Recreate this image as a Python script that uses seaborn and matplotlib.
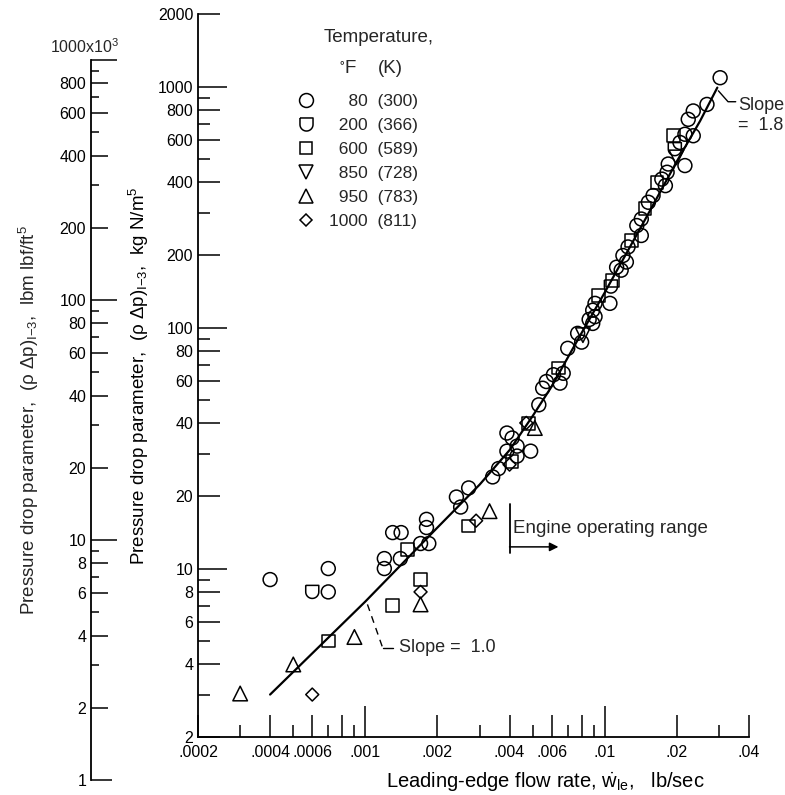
import numpy as np
import pandas as pd
import seaborn as sns
import matplotlib.pyplot as plt
from matplotlib.lines import Line2D
from matplotlib.ticker import NullFormatter

sns.set_theme(style="ticks")
plt.rcParams['font.family'] = ['Liberation Sans', 'DejaVu Sans']
plt.rcParams['mathtext.default'] = 'regular'
FS = 11.5      # tick labels
LFS = 13.5     # axis titles and notes

# ---- values ----
# 80 F (300 K)
x_80 = [0.0004, 0.0007, 0.0007, 0.0012, 0.0012, 0.0014, 0.0013, 0.00141, 0.0017, 0.00184,
        0.0018, 0.0018, 0.0024, 0.0025, 0.0027, 0.0034, 0.0036, 0.0039, 0.0039, 0.0041,
        0.0043, 0.0043, 0.0049, 0.0053, 0.0055, 0.0057, 0.0061, 0.0065, 0.0067, 0.0070,
        0.0077, 0.0080, 0.0086, 0.0089, 0.0089, 0.0091, 0.0091, 0.0105, 0.0112, 0.0117,
        0.0119, 0.0123, 0.0125, 0.0136, 0.0142, 0.0142, 0.0152, 0.0159, 0.0173, 0.0179,
        0.0182, 0.0184, 0.0206, 0.0216, 0.0216, 0.0223, 0.0234, 0.0234, 0.0267, 0.0303]
y_80 = [9.0, 8.0, 10.0, 10.0, 11.0, 11.0, 14.1, 14.1, 12.7, 12.7,
        14.8, 16.0, 19.8, 18.0, 21.6, 24.0, 26.0, 30.7, 36.5, 34.8,
        32.2, 29.3, 30.7, 47.8, 56, 59.7, 63.7, 58.8, 64.6, 82,
        94.6, 87, 108, 104, 118, 111, 126, 126, 178, 173,
        199, 187, 216, 265, 241, 282, 331, 353, 413, 388,
        441, 477, 586, 470, 634, 731, 625, 792, 843, 1088]
# 200 F (366 K)
x_200 = [0.0006, 0.0106, 0.0196]
y_200 = [8.0, 148, 550]
# 600 F (589 K)
x_600 = [0.0007, 0.0013, 0.0017, 0.0015, 0.0027, 0.0041, 0.0048, 0.0064, 0.0094, 0.0108,
         0.0129, 0.0147, 0.0165, 0.0193]
y_600 = [5.0, 7.0, 9.0, 12.0, 15.0, 27.9, 40, 68, 136, 157,
         230, 311, 400, 625]
# 850 F (728 K)
x_850 = [0.0081, 0.0199]
y_850 = [93, 508]
# 950 F (783 K)
x_950 = [0.0003, 0.0005, 0.0009, 0.0017, 0.0033, 0.0051]
y_950 = [3.03, 4.0, 5.2, 7.1, 17.3, 38.3]
# 1000 F (811 K)
x_1000 = [0.0006, 0.0017, 0.0029, 0.0040, 0.0047]
y_1000 = [3.0, 8.0, 15.8, 27, 40.2]

# faired curve, slope 1.0 bending into slope 1.8
curve_x = [0.0004, 0.001, 0.002, 0.003, 0.004, 0.005, 0.006, 0.007, 0.008, 0.01,
           0.015, 0.02, 0.025, 0.0295]
curve_y = [3.0, 7.3, 14.8, 22.3, 31, 43, 57, 75, 95, 140,
           290, 490, 720, 990]

temps_f = ['80', '200', '600', '850', '950', '1000']
temps_k = ['300', '366', '589', '728', '783', '811']

# annotation leaders
lead1_x = [0.00102, 0.00118]
lead1_y = [7.1, 4.7]
lead1_hx = [0.00118, 0.0013]
lead18_x = [0.0298, 0.0327, 0.0352]
lead18_y = [960, 865, 865]
engine_x = 0.004
engine_y = [11.6, 18.6]
engine_arrow_x = [0.004, 0.0064]
engine_arrow_y = 12.3

# axis ticks
x_major = [0.0002, 0.0004, 0.0006, 0.0008, 0.001, 0.002, 0.004, 0.006, 0.008, 0.01, 0.02, 0.04]
x_labels = ['.0002', '.0004', '.0006', '', '.001', '.002', '.004', '.006', '', '.01', '.02', '.04']
x_minor = [0.0003, 0.0005, 0.0007, 0.0009, 0.003, 0.005, 0.007, 0.009, 0.03]
y_major = [2, 4, 6, 8, 10, 20, 40, 60, 80, 100, 200, 400, 600, 800, 1000, 2000]
y_minor = [3, 5, 7, 9, 30, 50, 70, 90, 300, 500, 700, 900]
yl_major = [1, 2, 4, 6, 8, 10, 20, 40, 60, 80, 100, 200, 400, 600, 800, 1000]
yl_minor = [3, 5, 7, 9, 30, 50, 70, 90, 300, 500, 700, 900]

# ---- markers ----
t = np.linspace(0, -np.pi, 25)
cup = [(-1, 1), (1, 1)] + [(np.cos(a), np.sin(a)) for a in t] + [(-1, 1)]
markers = {'80': 'o', '200': cup, '600': 's', '850': 'v', '950': '^', '1000': 'D'}
sizes = {'80': 10.0, '200': 9.4, '600': 9.2, '850': 10.5, '950': 10.5, '1000': 6.6}

frames = []
for tf, xs, ys in zip(temps_f, [x_80, x_200, x_600, x_850, x_950, x_1000],
                      [y_80, y_200, y_600, y_850, y_950, y_1000]):
    frames.append(pd.DataFrame({'rate': xs, 'dp': ys, 'temp': tf}))
df = pd.concat(frames, ignore_index=True)

W, H = 785, 795
fig = plt.figure(figsize=(W / 100, H / 100), dpi=100)
ax = fig.add_axes([198 / W, 58 / H, 551 / W, 723 / H])
ax.set_xscale('log')
ax.set_yscale('log')

sns.lineplot(x=curve_x, y=curve_y, color='black', linewidth=1.6, sort=False,
             estimator=None, ax=ax, zorder=2)
for tf in temps_f:
    sub = df[df['temp'] == tf]
    sns.scatterplot(data=sub, x='rate', y='dp', marker=markers[tf], s=sizes[tf] ** 2,
                    facecolor='none', edgecolor='black', linewidth=1.1, ax=ax,
                    legend=False, zorder=3)

ax.set_xlim(0.0002, 0.04)
ax.set_ylim(2, 2000)
sns.despine(ax=ax)
for s in ['left', 'bottom']:
    ax.spines[s].set_linewidth(1.3)
    ax.spines[s].set_color('black')

ax.set_xticks(x_major)
ax.set_xticklabels(x_labels)
ax.set_xticks(x_minor, minor=True)
ax.xaxis.set_minor_formatter(NullFormatter())
ax.set_yticks(y_major)
ax.set_yticklabels([str(v) for v in y_major])
ax.set_yticks(y_minor, minor=True)
ax.yaxis.set_minor_formatter(NullFormatter())
ax.tick_params(which='both', direction='in', color='black', width=1.1, labelsize=FS,
               labelcolor='black')
ax.tick_params(which='major', length=15.5)
ax.tick_params(which='minor', length=8.6)
ax.tick_params(axis='x', which='major', pad=6)
ax.tick_params(axis='y', which='major', pad=3.5)


def lengthen(axis, locs, length):
    for tk, loc in zip(axis.get_major_ticks(), axis.get_majorticklocs()):
        if any(np.isclose(loc, v) for v in locs):
            tk.tick1line.set_markersize(length)


ax.set_xlabel(r'Leading-edge flow rate, $\dot{w}_{le}$,   lb/sec', fontsize=14.5, color='black')
ax.xaxis.set_label_coords(0.63, -0.046)
ax.set_ylabel(r'Pressure drop parameter,  ($\rho$ $\Delta$p)$_{I{-}3}$,  kg N/m$^5$',
              fontsize=LFS, color='black')
ax.yaxis.set_label_coords(-0.085, 0.5)

# legend
handles = [Line2D([], [], ls='none', marker=markers[tf], ms=sizes[tf], mfc='none',
                  mec='black', mew=1.1) for tf in temps_f]
labels = [' ' * (2 * (4 - len(tf))) + tf + '  (' + tk + ')' for tf, tk in zip(temps_f, temps_k)]
ax.legend(handles, labels, loc='upper left', bbox_to_anchor=(0.1801, 0.8895),
          frameon=False, handlelength=1.0, handletextpad=0.82, labelspacing=0.51,
          borderpad=0, borderaxespad=0, fontsize=12.5)
ax.text(0.3285, 0.968, 'Temperature,', transform=ax.transAxes, ha='center', va='center',
        fontsize=LFS)
ax.text(0.272, 0.925, '$^{\\circ}$F', transform=ax.transAxes, ha='center', va='center',
        fontsize=LFS)
ax.text(0.350, 0.925, '(K)', transform=ax.transAxes, ha='center', va='center', fontsize=LFS)

# slope notes
ax.plot(lead1_x, lead1_y, color='black', lw=1.0, dashes=(5, 4))
ax.plot(lead1_hx, [lead1_y[1], lead1_y[1]], color='black', lw=1.0)
ax.text(0.00138, lead1_y[1], 'Slope =  1.0', ha='left', va='center', fontsize=13)
ax.plot(lead18_x, lead18_y, color='black', lw=1.0)
ax.text(0.0359, 760, 'Slope\n=  1.8', ha='left', va='center', fontsize=13,
        multialignment='left', linespacing=1.2)

# engine operating range
ax.plot([engine_x, engine_x], engine_y, color='black', lw=1.3)
ax.annotate('', xy=(engine_arrow_x[1], engine_arrow_y), xytext=(engine_arrow_x[0], engine_arrow_y),
            arrowprops=dict(arrowstyle='-|>', color='black', lw=1.1, mutation_scale=13,
                            shrinkA=0, shrinkB=0))
ax.text(0.00413, 14.6, 'Engine operating range', ha='left', va='center', fontsize=LFS)

# second (English units) scale on the far left
axl = fig.add_axes([91 / W, 15 / H, 0.0005, 720 / H])
axl.set_yscale('log')
axl.set_ylim(1, 1000)
axl.patch.set_visible(False)
for s in ['top', 'right', 'bottom']:
    axl.spines[s].set_visible(False)
axl.spines['left'].set_linewidth(1.3)
axl.spines['left'].set_color('black')
axl.set_xticks([])
axl.set_yticks(yl_major)
axl.set_yticklabels([str(v) for v in yl_major[:-1]] + [''])
axl.set_yticks(yl_minor, minor=True)
axl.yaxis.set_minor_formatter(NullFormatter())
axl.tick_params(axis='y', which='both', direction='in', color='black', width=1.1,
                labelsize=FS, labelcolor='black', pad=3.5)
axl.tick_params(axis='y', which='major', length=12)
axl.tick_params(axis='y', which='minor', length=6)
fig.text(50 / W, 1 - 47 / H, '1000x10$^3$', ha='left', va='center', fontsize=FS)
fig.text(41 / W, 1 - 420 / H,
         r'Pressure drop parameter,  ($\rho$ $\Delta$p)$_{I{-}3}$,  lbm lbf/ft$^5$',
         rotation=90, ha='right', va='center', fontsize=LFS)

lengthen(ax.xaxis, [0.001, 0.01], 22)
lengthen(ax.yaxis, [10, 100, 1000], 21)
lengthen(axl.yaxis, [10, 100, 1000], 19)
lengthen(axl.yaxis, [1], 15)

fig.savefig('out.png', dpi=100)
